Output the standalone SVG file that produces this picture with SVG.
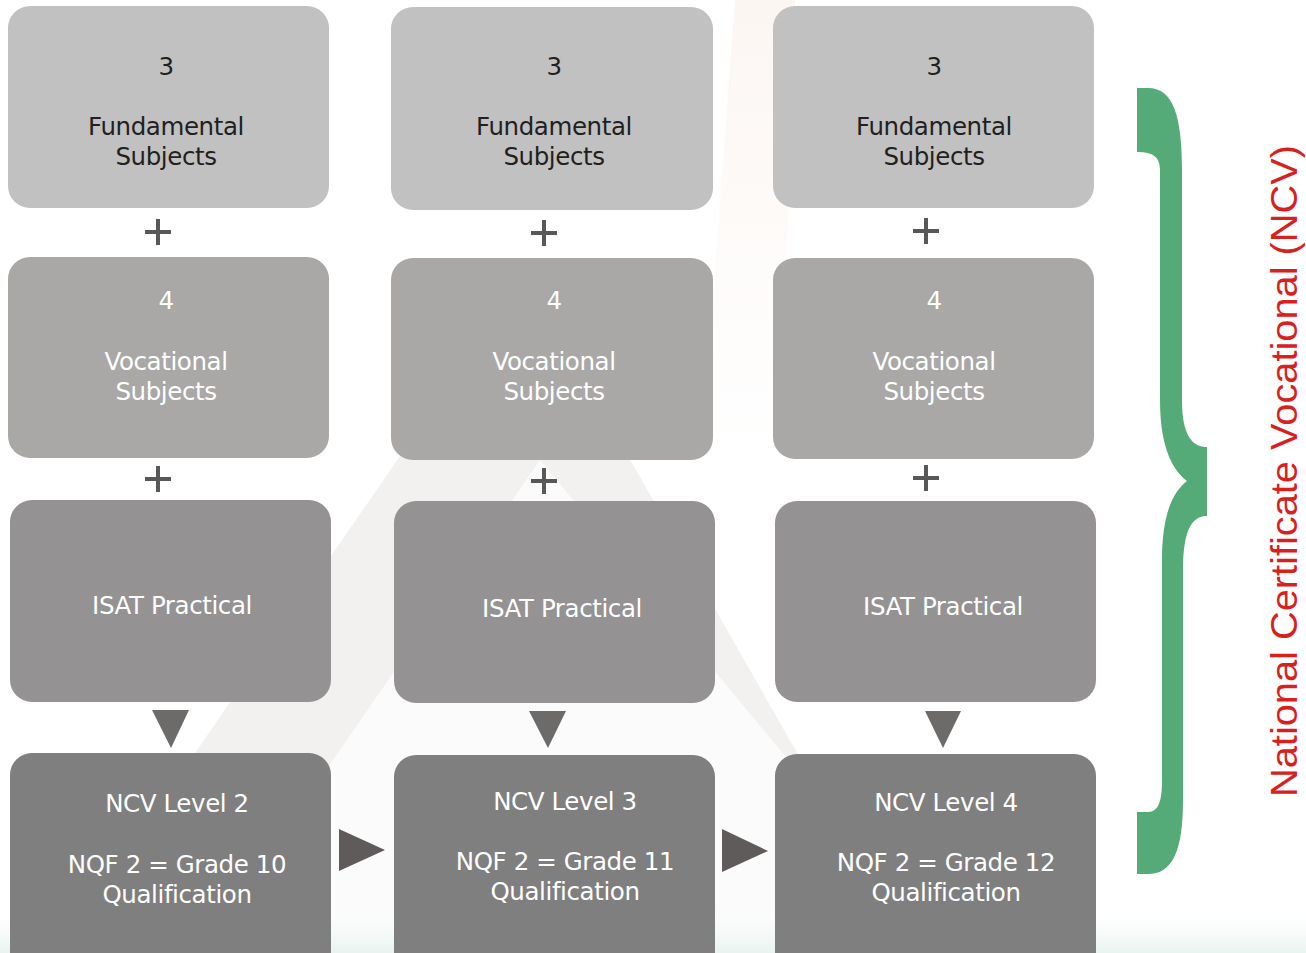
<svg xmlns="http://www.w3.org/2000/svg" width="1306" height="953" viewBox="0 0 1306 953">
<defs>
<style>
.r1{fill:#c1c1c1}
.r2{fill:#a9a8a7}
.r3{fill:#949293}
.r4{fill:#807f7f}
.t{font-family:"DejaVu Sans","Liberation Sans",sans-serif;font-size:24.5px;text-anchor:middle;letter-spacing:-0.4px}
.dk{fill:#231f20}
.wh{fill:#ffffff}
.plus{stroke:#5a5757;stroke-width:4;fill:none}
.dn{fill:#6d6b6a}
.rt{fill:#5f5b5a}
</style>
<linearGradient id="btm" x1="0" y1="0" x2="0" y2="1">
<stop offset="0" stop-color="#ffffff" stop-opacity="0"/>
<stop offset="1" stop-color="#e8f3ef"/>
</linearGradient>
<linearGradient id="pch" x1="0" y1="0" x2="0" y2="1">
<stop offset="0" stop-color="#fcf6f3"/>
<stop offset="1" stop-color="#fcf6f3" stop-opacity="0"/>
</linearGradient>
</defs>
<rect width="1306" height="953" fill="#ffffff"/>
<g id="watermark">
<polygon points="525,275 57,953 911,953" fill="#f2f1f0"/>
<polygon points="540,460 200,953 948,953" fill="#fbfbfb"/>
<polygon points="735,0 795,0 780,470 700,470" fill="url(#pch)"/>
<rect x="0" y="905" width="1306" height="48" fill="url(#btm)"/>
</g>
<g id="col1-fund"><rect class="r1" x="8" y="6" width="321" height="202" rx="22"/>
<text class="t dk" x="166" y="75">3</text><text class="t dk" x="166" y="135">Fundamental</text><text class="t dk" x="166" y="165">Subjects</text></g>
<g id="col2-fund"><rect class="r1" x="391" y="7" width="322" height="203" rx="22"/>
<text class="t dk" x="554" y="75">3</text><text class="t dk" x="554" y="135">Fundamental</text><text class="t dk" x="554" y="165">Subjects</text></g>
<g id="col3-fund"><rect class="r1" x="773" y="6" width="321" height="202" rx="22"/>
<text class="t dk" x="934" y="75">3</text><text class="t dk" x="934" y="135">Fundamental</text><text class="t dk" x="934" y="165">Subjects</text></g>
<g id="col1-voc"><rect class="r2" x="8" y="257" width="321" height="201" rx="22"/>
<text class="t wh" x="166" y="309">4</text><text class="t wh" x="166" y="370">Vocational</text><text class="t wh" x="166" y="400">Subjects</text></g>
<g id="col2-voc"><rect class="r2" x="391" y="258" width="322" height="202" rx="22"/>
<text class="t wh" x="554" y="309">4</text><text class="t wh" x="554" y="370">Vocational</text><text class="t wh" x="554" y="400">Subjects</text></g>
<g id="col3-voc"><rect class="r2" x="773" y="258" width="321" height="201" rx="22"/>
<text class="t wh" x="934" y="309">4</text><text class="t wh" x="934" y="370">Vocational</text><text class="t wh" x="934" y="400">Subjects</text></g>
<g id="col1-isat"><rect class="r3" x="10" y="500" width="321" height="202" rx="22"/>
<text class="t wh" x="172" y="614">ISAT Practical</text></g>
<g id="col2-isat"><rect class="r3" x="394" y="501" width="321" height="202" rx="22"/>
<text class="t wh" x="562" y="617">ISAT Practical</text></g>
<g id="col3-isat"><rect class="r3" x="775" y="501" width="321" height="201" rx="22"/>
<text class="t wh" x="943" y="615">ISAT Practical</text></g>
<g id="col1-ncv"><rect class="r4" x="10" y="753" width="321" height="240" rx="22"/>
<text class="t wh" x="177" y="812">NCV Level 2</text><text class="t wh" x="177" y="873">NQF 2 = Grade 10</text><text class="t wh" x="177" y="903">Qualification</text></g>
<g id="col2-ncv"><rect class="r4" x="394" y="755" width="321" height="240" rx="22"/>
<text class="t wh" x="565" y="810">NCV Level 3</text><text class="t wh" x="565" y="870">NQF 2 = Grade 11</text><text class="t wh" x="565" y="900">Qualification</text></g>
<g id="col3-ncv"><rect class="r4" x="775" y="754" width="321" height="240" rx="22"/>
<text class="t wh" x="946" y="811">NCV Level 4</text><text class="t wh" x="946" y="871">NQF 2 = Grade 12</text><text class="t wh" x="946" y="901">Qualification</text></g>
<g id="connectors">
<path class="plus" d="M145,232h26M158,219v26"/>
<path class="plus" d="M531,233h26M544,220v26"/>
<path class="plus" d="M913,231h26M926,218v26"/>
<path class="plus" d="M145,479h26M158,466v26"/>
<path class="plus" d="M531,481h26M544,468v26"/>
<path class="plus" d="M913,478h26M926,465v26"/>
<polygon class="dn" points="152,710 189,710 171,748"/>
<polygon class="dn" points="529,711 566,711 548,748"/>
<polygon class="dn" points="925,711 961,711 943,748"/>
<polygon class="rt" points="339,829 385,850 339,871"/>
<polygon class="rt" points="722,829 768,851 722,872"/>
</g>
<g id="brace">
<path fill="#55ab78" d="M1137,88 L1148,88 C1174,88 1182,118 1182,170 L1182,400 C1182,438 1194,447 1207,447 L1207,516 C1194,516 1183,526 1183,570 L1183,800 C1183,852 1172,874 1148,874 L1137,874 L1137,812 L1148,812 C1159,812 1162,800 1162,780 L1162,560 C1162,512 1174,491 1187,481 C1174,471 1160,450 1160,400 L1160,170 C1160,157 1153,152 1137,152 Z"/>
</g>
<g id="ncv-label">
<text x="0" y="0" transform="translate(1297,471) rotate(-90)" font-family="Liberation Sans, Arial, sans-serif" font-size="37" fill="#d7211f" text-anchor="middle" textLength="652" lengthAdjust="spacingAndGlyphs">National Certificate Vocational (NCV)</text>
</g>
</svg>
